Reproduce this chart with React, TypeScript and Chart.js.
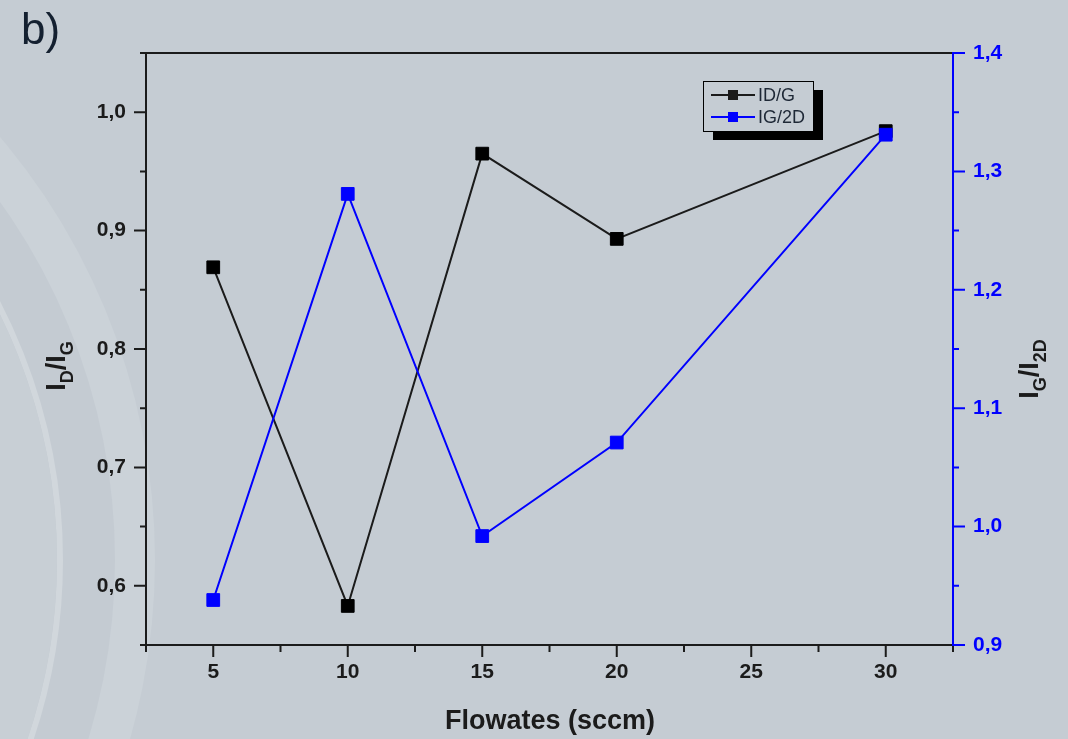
import { useEffect, useRef } from "react";
import { Chart, registerables } from "chart.js";

Chart.register(...registerables);

// ---- data ----
const flowRates = [5, 10, 15, 20, 30];
const idG = [0.869, 0.583, 0.965, 0.893, 0.984];
const igD2 = [0.938, 1.281, 0.992, 1.071, 1.331];

const xTicks = [5, 10, 15, 20, 25, 30];
const xMinor = [2.5, 7.5, 12.5, 17.5, 22.5, 27.5, 32.5];
const leftTicks = [0.6, 0.7, 0.8, 0.9, 1.0];
const leftMinor = [0.55, 0.65, 0.75, 0.85, 0.95, 1.05];
const rightTicks = [0.9, 1.0, 1.1, 1.2, 1.3, 1.4];
const rightMinor = [0.95, 1.05, 1.15, 1.25, 1.35];

const FONT = "'Liberation Sans', Arial, sans-serif";
const BG = "#c5ccd3";
const DARK = "#1b1b1b";
const BLUE = "#0000ff";

const decoPlugin = {
  id: "deco",
  beforeDraw(chart: any) {
    const { ctx, width, height } = chart;
    ctx.save();
    ctx.fillStyle = BG;
    ctx.fillRect(0, 0, width, height);
    // subtle background arcs
    ctx.beginPath();
    ctx.arc(-500, 560, 655, 0, Math.PI * 2);
    ctx.fillStyle = "#cbd2d8";
    ctx.fill();
    ctx.beginPath();
    ctx.arc(-500, 560, 615, 0, Math.PI * 2);
    ctx.fillStyle = "#c4cbd2";
    ctx.fill();
    ctx.beginPath();
    ctx.arc(-500, 560, 560, 0, Math.PI * 2);
    ctx.strokeStyle = "#d1d7dc";
    ctx.lineWidth = 6;
    ctx.stroke();
    ctx.beginPath();
    ctx.arc(-500, 560, 557, 0, Math.PI * 2);
    ctx.fillStyle = "#c8cfd5";
    ctx.fill();
    // "b)"
    ctx.fillStyle = "#142030";
    ctx.font = `44px ${FONT}`;
    ctx.textBaseline = "alphabetic";
    ctx.textAlign = "left";
    ctx.fillText("b)", 21, 44);
    ctx.restore();
  },
  beforeDatasetsDraw(chart: any) {
    const { ctx, chartArea } = chart;
    const { left, right, top, bottom } = chartArea;
    const xs = chart.scales.x;
    const yl = chart.scales.y;
    const yr = chart.scales.y2;
    ctx.save();
    ctx.lineWidth = 2;
    ctx.lineCap = "butt";
    // frame (left, bottom, top)
    ctx.strokeStyle = DARK;
    ctx.beginPath();
    ctx.moveTo(left, top);
    ctx.lineTo(left, bottom);
    ctx.moveTo(left - 1, bottom);
    ctx.lineTo(right, bottom);
    ctx.moveTo(left - 1, top);
    ctx.lineTo(right, top);
    ctx.stroke();
    // left ticks
    ctx.beginPath();
    leftTicks.forEach((v) => {
      const y = yl.getPixelForValue(v);
      ctx.moveTo(left - 12, y);
      ctx.lineTo(left, y);
    });
    leftMinor.forEach((v) => {
      const y = yl.getPixelForValue(v);
      ctx.moveTo(left - 6, y);
      ctx.lineTo(left, y);
    });
    // x ticks
    xTicks.forEach((v) => {
      const x = xs.getPixelForValue(v);
      ctx.moveTo(x, bottom);
      ctx.lineTo(x, bottom + 12);
    });
    xMinor.forEach((v) => {
      const x = xs.getPixelForValue(v);
      ctx.moveTo(x, bottom);
      ctx.lineTo(x, bottom + 7);
    });
    ctx.stroke();
    // right axis in blue
    ctx.strokeStyle = BLUE;
    ctx.beginPath();
    ctx.moveTo(right, top - 1);
    ctx.lineTo(right, bottom + 1);
    rightTicks.forEach((v) => {
      const y = yr.getPixelForValue(v);
      ctx.moveTo(right, y);
      ctx.lineTo(right + 12, y);
    });
    rightMinor.forEach((v) => {
      const y = yr.getPixelForValue(v);
      ctx.moveTo(right, y);
      ctx.lineTo(right + 6, y);
    });
    ctx.stroke();
    ctx.restore();
  },
  afterDraw(chart: any) {
    const { ctx } = chart;
    ctx.save();
    // x title
    ctx.fillStyle = DARK;
    ctx.font = `bold 27px ${FONT}`;
    ctx.textAlign = "center";
    ctx.textBaseline = "alphabetic";
    ctx.fillText("Flowates (sccm)", 550, 729);

    // rotated y titles with subscripts
    const drawSub = (parts: [string, boolean][], cx: number, cy: number, color: string) => {
      const mainF = `bold 27px ${FONT}`;
      const subF = `bold 18px ${FONT}`;
      let total = 0;
      parts.forEach(([t, sub]) => {
        ctx.font = sub ? subF : mainF;
        total += ctx.measureText(t).width;
      });
      ctx.save();
      ctx.translate(cx, cy);
      ctx.rotate(-Math.PI / 2);
      ctx.fillStyle = color;
      ctx.textAlign = "left";
      ctx.textBaseline = "alphabetic";
      let x = -total / 2;
      parts.forEach(([t, sub]) => {
        ctx.font = sub ? subF : mainF;
        ctx.fillText(t, x, sub ? 8 : 0);
        x += ctx.measureText(t).width;
      });
      ctx.restore();
    };
    drawSub(
      [
        ["I", false],
        ["D", true],
        ["/I", false],
        ["G", true],
      ],
      65,
      366,
      DARK
    );
    drawSub(
      [
        ["I", false],
        ["G", true],
        ["/I", false],
        ["2D", true],
      ],
      1038,
      369,
      DARK
    );

    // legend
    const bx = 703, by = 81, bw = 110, bh = 50;
    ctx.fillStyle = "#000";
    ctx.fillRect(bx + 10, by + 9, bw, bh);
    ctx.fillStyle = BG;
    ctx.fillRect(bx, by, bw, bh);
    ctx.strokeStyle = "#000";
    ctx.lineWidth = 1;
    ctx.strokeRect(bx + 0.5, by + 0.5, bw, bh);
    const rows: [string, string, number][] = [
      ["ID/G", DARK, 95],
      ["IG/2D", BLUE, 117],
    ];
    rows.forEach(([label, color, y]) => {
      ctx.strokeStyle = color;
      ctx.lineWidth = 2;
      ctx.beginPath();
      ctx.moveTo(711, y);
      ctx.lineTo(755, y);
      ctx.stroke();
      ctx.fillStyle = color;
      ctx.fillRect(728, y - 5, 10, 10);
      ctx.fillStyle = "#1e2836";
      ctx.font = `18px ${FONT}`;
      ctx.textAlign = "left";
      ctx.textBaseline = "middle";
      ctx.fillText(label, 758, y + 1);
    });
    ctx.restore();
  },
};

export default function App() {
  const ref = useRef<HTMLCanvasElement | null>(null);

  useEffect(() => {
    document.body.style.margin = "0";
    const canvas = ref.current;
    if (!canvas) return;
    const chart = new Chart(canvas, {
      type: "line",
      data: {
        datasets: [
          {
            label: "IG/2D",
            data: flowRates.map((x, i) => ({ x, y: igD2[i] })),
            yAxisID: "y2",
            borderColor: BLUE,
            backgroundColor: BLUE,
            pointBackgroundColor: BLUE,
            pointBorderColor: BLUE,
            pointStyle: "rect",
            pointRadius: 9,
            pointBorderWidth: 1,
            borderWidth: 2,
            tension: 0,
            order: 0,
          },
          {
            label: "ID/G",
            data: flowRates.map((x, i) => ({ x, y: idG[i] })),
            yAxisID: "y",
            borderColor: DARK,
            backgroundColor: "#000",
            pointBackgroundColor: "#000",
            pointBorderColor: "#000",
            pointStyle: "rect",
            pointRadius: 9,
            pointBorderWidth: 1,
            borderWidth: 2,
            tension: 0,
            order: 1,
          },
        ],
      },
      plugins: [decoPlugin],
      options: {
        animation: false,
        responsive: false,
        maintainAspectRatio: false,
        layout: { padding: { top: 53, left: 0, right: 0, bottom: 0 } },
        plugins: {
          legend: { display: false },
          tooltip: { enabled: false },
          title: { display: false },
        },
        scales: {
          x: {
            type: "linear",
            position: "bottom",
            min: 2.5,
            max: 32.5,
            grid: { display: false, drawTicks: false, tickLength: 0 },
            border: { display: false },
            afterBuildTicks: (s: any) => {
              s.ticks = xTicks.map((v) => ({ value: v }));
            },
            afterFit: (s: any) => {
              s.height = 94;
            },
            ticks: {
              autoSkip: false,
              maxRotation: 0,
              padding: 15,
              color: DARK,
              font: { family: FONT, size: 21, weight: "bold" },
              callback: (v: any) => String(v),
            },
          },
          y: {
            type: "linear",
            position: "left",
            min: 0.55,
            max: 1.05,
            grid: { display: false, drawTicks: false, tickLength: 0 },
            border: { display: false },
            afterBuildTicks: (s: any) => {
              s.ticks = leftTicks.map((v) => ({ value: v }));
            },
            afterFit: (s: any) => {
              s.width = 146;
            },
            ticks: {
              autoSkip: false,
              padding: 20,
              color: DARK,
              font: { family: FONT, size: 21, weight: "bold" },
              callback: (v: any) => Number(v).toFixed(1).replace(".", ","),
            },
          },
          y2: {
            type: "linear",
            position: "right",
            min: 0.9,
            max: 1.4,
            grid: { display: false, drawTicks: false, tickLength: 0 },
            border: { display: false },
            afterBuildTicks: (s: any) => {
              s.ticks = rightTicks.map((v) => ({ value: v }));
            },
            afterFit: (s: any) => {
              s.width = 115;
            },
            ticks: {
              autoSkip: false,
              padding: 20,
              color: BLUE,
              font: { family: FONT, size: 21, weight: "bold" },
              callback: (v: any) => Number(v).toFixed(1).replace(".", ","),
            },
          },
        },
      },
    } as any);
    return () => chart.destroy();
  }, []);

  return (
    <div style={{ position: "fixed", left: 0, top: 0, width: 1068, height: 739 }}>
      <canvas ref={ref} width={1068} height={739} style={{ display: "block" }} />
    </div>
  );
}
